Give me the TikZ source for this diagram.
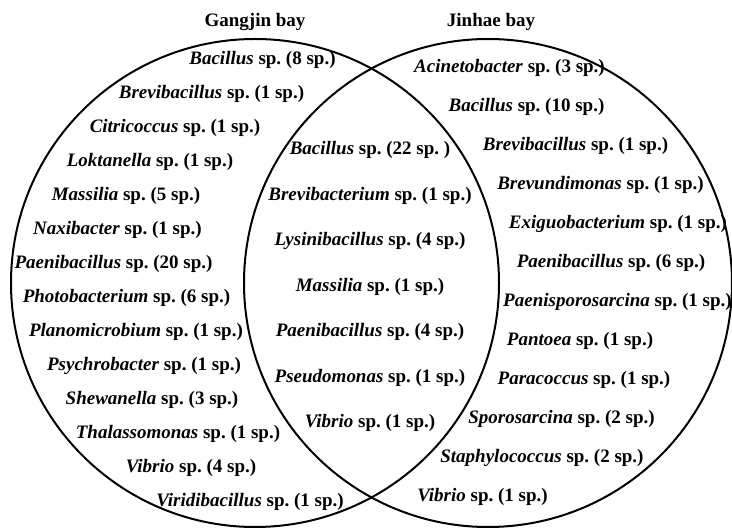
\documentclass[tikz,border=0pt]{standalone}
\usepackage{fontspec}
\setmainfont{Liberation Serif}
\frenchspacing
\begin{document}
\begin{tikzpicture}[x=1pt,y=-1pt,
  lbl/.style={font=\fontsize{19}{22}\selectfont\bfseries, inner sep=0pt, anchor=base},
  setc/.style={circle, draw, line width=2pt, minimum size=488pt, inner sep=0pt}]
\useasboundingbox (0,0) rectangle (732,529);
% sets
\node[setc] (gangjin) at (255,283) {};
\node[setc] (jinhae) at (488,283) {};
% titles
\node[lbl] (tg) at (255,27) {Gangjin bay};
\node[lbl] (tj) at (491,27) {Jinhae bay};
% Gangjin only
\node[lbl] (g1)  at (262.5,65) {\textit{Bacillus} sp. (8 sp.)};
\node[lbl] (g2)  at (211.5,99) {\textit{Brevibacillus} sp. (1 sp.)};
\node[lbl] (g3)  at (175,133) {\textit{Citricoccus} sp. (1 sp.)};
\node[lbl] (g4)  at (150,167) {\textit{Loktanella} sp. (1 sp.)};
\node[lbl] (g5)  at (126,201) {\textit{Massilia} sp. (5 sp.)};
\node[lbl] (g6)  at (117.5,235) {\textit{Naxibacter} sp. (1 sp.)};
\node[lbl] (g7)  at (113.5,269) {\textit{Paenibacillus} sp. (20 sp.)};
\node[lbl] (g8)  at (126.5,303) {\textit{Photobacterium} sp. (6 sp.)};
\node[lbl] (g9)  at (136,337) {\textit{Planomicrobium} sp. (1 sp.)};
\node[lbl] (g10) at (144,371) {\textit{Psychrobacter} sp. (1 sp.)};
\node[lbl] (g11) at (152,405) {\textit{Shewanella} sp. (3 sp.)};
\node[lbl] (g12) at (178,439) {\textit{Thalassomonas} sp. (1 sp.)};
\node[lbl] (g13) at (191,473) {\textit{Vibrio} sp. (4 sp.)};
\node[lbl] (g14) at (250,507) {\textit{Viridibacillus} sp. (1 sp.)};
% shared
\node[lbl] (s1) at (370,155) {\textit{Bacillus} sp. (22 sp. )};
\node[lbl] (s2) at (370,200.5) {\textit{Brevibacterium} sp. (1 sp.)};
\node[lbl] (s3) at (370,246) {\textit{Lysinibacillus} sp. (4 sp.)};
\node[lbl] (s4) at (370,291.5) {\textit{Massilia} sp. (1 sp.)};
\node[lbl] (s5) at (370,337) {\textit{Paenibacillus} sp. (4 sp.)};
\node[lbl] (s6) at (370,382.5) {\textit{Pseudomonas} sp. (1 sp.)};
\node[lbl] (s7) at (370,428) {\textit{Vibrio} sp. (1 sp.)};
% Jinhae only
\node[lbl] (j1)  at (509.5,73) {\textit{Acinetobacter} sp. (3 sp.)};
\node[lbl] (j2)  at (526.5,112) {\textit{Bacillus} sp. (10 sp.)};
\node[lbl] (j3)  at (575.5,151) {\textit{Brevibacillus} sp. (1 sp.)};
\node[lbl] (j4)  at (600.5,190) {\textit{Brevundimonas} sp. (1 sp.)};
\node[lbl] (j5)  at (618,229) {\textit{Exiguobacterium} sp. (1 sp.)};
\node[lbl] (j6)  at (611,268) {\textit{Paenibacillus} sp. (6 sp.)};
\node[lbl] (j7)  at (617.5,307) {\textit{Paenisporosarcina} sp. (1 sp.)};
\node[lbl] (j8)  at (580,346) {\textit{Pantoea} sp. (1 sp.)};
\node[lbl] (j9)  at (584,385) {\textit{Paracoccus} sp. (1 sp.)};
\node[lbl] (j10) at (561.5,424) {\textit{Sporosarcina} sp. (2 sp.)};
\node[lbl] (j11) at (542,463) {\textit{Staphylococcus} sp. (2 sp.)};
\node[lbl] (j12) at (482.5,502) {\textit{Vibrio} sp. (1 sp.)};
\end{tikzpicture}
\end{document}
